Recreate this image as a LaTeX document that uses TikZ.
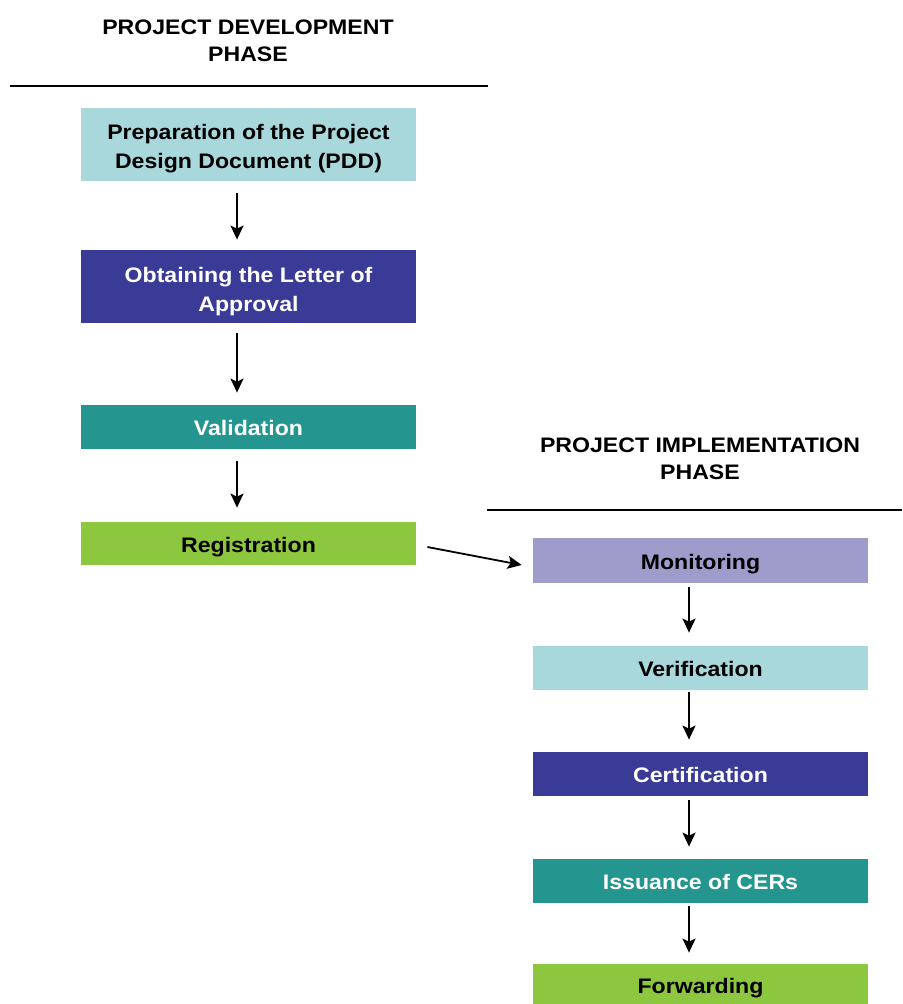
\documentclass[tikz,border=0pt]{standalone}
\usepackage{fontspec}
\setmainfont{Liberation Sans}[FakeStretch=1.1]
\usetikzlibrary{arrows.meta}
\definecolor{pddblue}{HTML}{A8D7DC}
\definecolor{loablue}{HTML}{3A3B97}
\definecolor{valteal}{HTML}{25968F}
\definecolor{reggreen}{HTML}{8DC63F}
\definecolor{monlav}{HTML}{9E9CCB}
\newcommand{\stagestrut}{\rule{0pt}{12.2pt}}
\tikzset{
	stage/.style={minimum width=167.5pt, inner sep=0pt, align=center, font=\fontsize{10.5}{14.5}\selectfont\bfseries},
	onestage/.style={stage, text depth=0pt, text height=8.9pt},
	twostage/.style={stage, minimum height=36.5pt},
	phase/.style={align=center, font=\fontsize{10.5}{13.5}\selectfont\bfseries},
	flow/.style={line width=0.9pt, -{Stealth[length=7pt,width=6.5pt,inset=1.5pt]}}
}
\begin{document}
\begin{tikzpicture}[x=0.5pt,y=-0.5pt]
				\useasboundingbox (0,0) rectangle (902,1004);
				% development phase
				\node[phase] (devtitle) at (248,41) {PROJECT DEVELOPMENT\\PHASE};
				\draw[line width=0.8pt] (10,86) to (488,86);
				\node[twostage, fill=pddblue] (pdd) at (248.5,144.5) {\stagestrut Preparation of the Project\\Design Document (PDD)};
				\node[twostage, fill=loablue, text=white] (loa) at (248.5,286.5) {\stagestrut Obtaining the Letter of\\Approval};
				\node[onestage, fill=valteal, text=white, minimum height=22pt] (val) at (248.5,427) {Validation};
				\node[onestage, fill=reggreen, minimum height=21.5pt] (reg) at (248.5,543.5) {Registration};
				\draw[flow, shorten <=6pt, shorten >=5pt] ([xshift=-5.75pt]pdd.south) to ([xshift=-5.75pt]loa.north);
				\draw[flow, shorten <=5pt, shorten >=6pt] ([xshift=-5.75pt]loa.south) to ([xshift=-5.75pt]val.north);
				\draw[flow, shorten <=6pt, shorten >=7pt] ([xshift=-5.75pt]val.south) to ([xshift=-5.75pt]reg.north);
				% implementation phase
				\node[phase] (imptitle) at (700,459) {PROJECT IMPLEMENTATION\\PHASE};
				\draw[line width=0.8pt] (487,510) to (902,510);
				\node[onestage, fill=monlav, minimum height=22.5pt] (mon) at (700.5,560.5) {Monitoring};
				\node[onestage, fill=pddblue, minimum height=22pt] (ver) at (700.5,668) {Verification};
				\node[onestage, fill=loablue, text=white, minimum height=22pt] (cert) at (700.5,774) {Certification};
				\node[onestage, fill=valteal, text=white, minimum height=22pt] (iss) at (700.5,881) {Issuance of CERs};
				\node[onestage, fill=reggreen, minimum height=21pt] (fwd) at (700.5,985) {Forwarding};
				\draw[flow] ([xshift=5.5pt,yshift=-1.75pt]reg.east) to ([xshift=-5.5pt,yshift=-2.25pt]mon.west);
				\draw[flow, shorten <=2pt, shorten >=6.5pt] ([xshift=-5.75pt]mon.south) to ([xshift=-5.75pt]ver.north);
				\draw[flow, shorten <=1pt, shorten >=6pt] ([xshift=-5.75pt]ver.south) to ([xshift=-5.75pt]cert.north);
				\draw[flow, shorten <=2pt, shorten >=6pt] ([xshift=-5.75pt]cert.south) to ([xshift=-5.75pt]iss.north);
				\draw[flow, shorten <=1.5pt, shorten >=5.5pt] ([xshift=-5.75pt]iss.south) to ([xshift=-5.75pt]fwd.north);
\end{tikzpicture}
\end{document}
